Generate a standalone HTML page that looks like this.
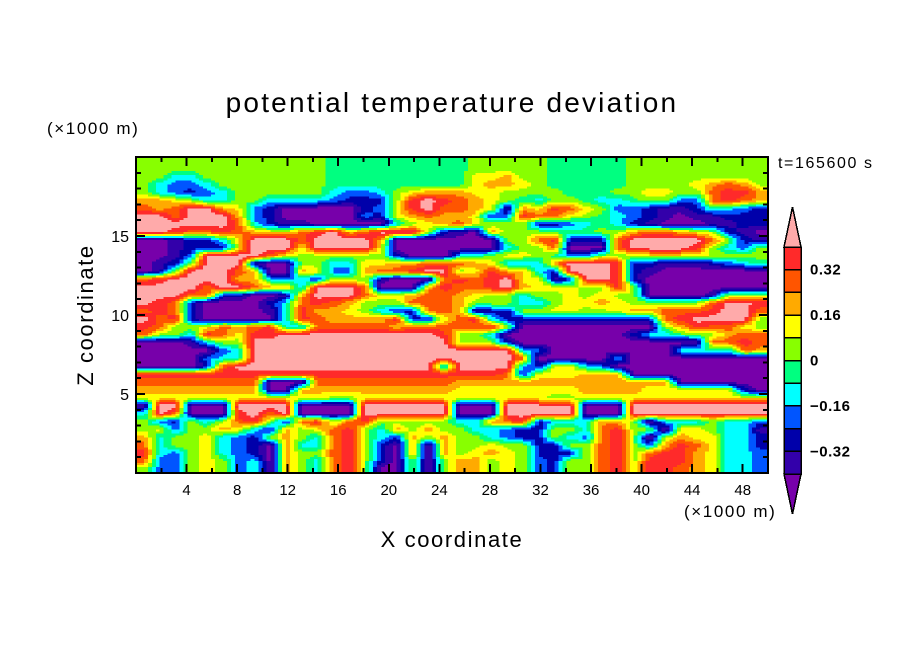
<!DOCTYPE html>
<html><head><meta charset="utf-8">
<style>
html,body{margin:0;padding:0;background:#fff;}
svg{display:block;}
text{font-family:"Liberation Sans",sans-serif;fill:#000;}
</style></head>
<body>
<svg id="chart" width="904" height="654" viewBox="0 0 904 654" xmlns="http://www.w3.org/2000/svg" shape-rendering="crispEdges">
<text x="452" y="112" font-size="28" text-anchor="middle" letter-spacing="2.2">potential temperature deviation</text>
<text x="47" y="134" font-size="17" letter-spacing="1.6">(×1000 m)</text>
<text x="778" y="168" font-size="16" letter-spacing="1.6">t=165600 s</text>
<text x="684" y="517" font-size="17" letter-spacing="1.6">(×1000 m)</text>
<text x="452" y="547" font-size="22" text-anchor="middle" letter-spacing="1.6">X coordinate</text>
<text x="0" y="0" font-size="22" text-anchor="middle" letter-spacing="1.6" transform="translate(93,315) rotate(-90)">Z coordinate</text>
<g id="field"></g>
<g id="axes"></g>
<g id="cbar"></g>
</svg>
<script>
// ---- data ----
const xTicks = [4, 8, 12, 16, 20, 24, 28, 32, 36, 40, 44, 48];
const zTicks = [5, 10, 15];
const cbarLabels = ["0.32", "0.16", "0", "\u22120.16", "\u22120.32"];
const cbarLabelValues = [0.32, 0.16, 0, -0.16, -0.32];
const levelBounds = [-0.40, -0.32, -0.24, -0.16, -0.08, 0, 0.08, 0.16, 0.24, 0.32, 0.40];
const levelColors = ["#7700aa","#3300aa","#0000aa","#0055ff","#00ffff","#00ff80","#88ff00","#ffff00","#ffaa00","#ff5500","#ff2a2a","#ffaaaa"];
// field rows from top (z=20) to bottom (z=0); each char is a contour-band code 0..b
const fieldRows = [
"6666666666665555555556666655555666666666",
"6666666666665555555556666655555666666666",
"6644666666665555555557786655555666666666",
"6433466666665555555557887655555666678986",
"6432346666664334678887766665556677669aa8",
"88764466444432226aba98765466544566339a98",
"989bb873200000237ab9987187a9763321125432",
"bb9bbb832000003278988723a99765432101122",
"bbbbbb942110000046789766622345421000112",
"bba99a98779ab89bbb6210866655566899876210",
"0012247bbb9bbbb80000000669a2229bbbbb9621",
"0012227bbb7bbbb7000000046690009bbbba6436",
"0013bbbb97666666200044677653366677776666",
"0126bbb10066447788999874348bbba221112345",
"016bbb98008733899abb67a8842bbba210000000",
"9abbbb88434276610009a9ab7712bba200000000",
"bbbb9bb9884bbb90008a99ab877766a600000000",
"bbb99220018bbb97789987664667676600001666",
"ba920000249a9866699986664467787666669bba",
"9a92000014a8876422998122667766788999abb9",
"b9a2000004a98888a2279a422222222229abbbb6",
"a9667989a4499999899999a600000000068a9976",
"9664a97aabbbbbbbbbba66400000000244566899",
"0001466bbbbbbbbbbbbb666200000000000099a9",
"0000034bbbbbbbbbbbbbbbbb4300000000454498",
"0000344bbbbbbbbbbbbbbbbb9000004000000000",
"000029bbbbbbbbbbbbb3bbbb3277430000000000",
"aaaaaaaaaaaaaaaaaaaaaaa92777888000000000",
"9999999900099999999988888888888888000000",
"8888888800888888888877777777888877777720",
"7777777777776677777777777766777777777777",
"0bb000bbbb0000bbbbbb000bbbbb000bbbbbbbbb",
"4b9000ab9b0000bbbbbb000bbbbb000bbbbbbbbb",
"6326469a629a69a666664489a244488604446443",
"6736687428679a6486866443226649a660776441",
"8466743268649a6428686643226439a606877442",
"9466743208449a6208086676622669a638a97442",
"a436743208669a6208086787622269a69aa87443",
"9336763408649a6206068867632669a6aaa87443",
"6336763408649a6006068867632669a6aa987443"
];
// ---- scales ----
const X0=136, X1=768, Y0=157, Y1=473, XMAX=50, ZMAX=20;
function xScale(x){ return X0 + x/XMAX*(X1-X0); }
function zScale(z){ return Y1 - z/ZMAX*(Y1-Y0); }
function levelIndex(v){ let i=0; while(i<levelBounds.length && v>=levelBounds[i]-1e-9) i++; return i; }
function levelColor(v){ return levelColors[levelIndex(v)]; }
const NS="http://www.w3.org/2000/svg";
function mk(tag, attrs){ const e=document.createElementNS(NS,tag); for(const k in attrs) e.setAttribute(k,attrs[k]); return e; }
const values = fieldRows.map(r => {
  const s = r.replace(/\s/g,"");
  const out=[]; for(let j=0;j<40;j++){ const c=s[Math.min(j,s.length-1)]; out.push(-0.44+0.08*parseInt(c,12)); } return out;
});
const nRows=values.length, nCols=40;
function sample(cx, rz){
  cx=Math.max(0,Math.min(nCols-1,cx)); rz=Math.max(0,Math.min(nRows-1,rz));
  const j0=Math.floor(cx), i0=Math.floor(rz), j1=Math.min(nCols-1,j0+1), i1=Math.min(nRows-1,i0+1);
  const fx=cx-j0, fz=rz-i0;
  const a=values[i0][j0]*(1-fx)+values[i0][j1]*fx, b=values[i1][j0]*(1-fx)+values[i1][j1]*fx;
  return a*(1-fz)+b*fz;
}
const SUB=4, NX=nCols*SUB, NZ=nRows*SUB;
const fieldG=document.getElementById("field");
for(let i=0;i<NZ;i++){
  const zTop=ZMAX - i*ZMAX/NZ, zBot=ZMAX-(i+1)*ZMAX/NZ;
  const rz=(i+0.5)/SUB-0.5;
  let runStart=0, runLevel=levelIndex(sample(0.5/SUB-0.5, rz));
  for(let j=1;j<=NX;j++){
    const lv = j<NX ? levelIndex(sample((j+0.5)/SUB-0.5, rz)) : -1;
    if(lv!==runLevel){
      const xa=runStart*XMAX/NX, xb=j*XMAX/NX;
      const r=mk("rect",{x:xScale(xa),y:zScale(zTop),width:xScale(xb)-xScale(xa)+0.5,height:zScale(zBot)-zScale(zTop)+0.5,fill:levelColors[runLevel]});
      
      
      fieldG.appendChild(r);
      runStart=j; runLevel=lv;
    }
  }
}
// ---- axes ----
const axesG=document.getElementById("axes");
const frame=mk("rect",{x:X0,y:Y0,width:X1-X0,height:Y1-Y0,fill:"none",stroke:"#000","stroke-width":2});


axesG.appendChild(frame);
for(let x=2;x<XMAX;x+=2){
  const major = xTicks.includes(x), len = major?9:5, px=xScale(x);
  const t1=mk("line",{x1:px,y1:Y1,x2:px,y2:Y1-len,stroke:"#000","stroke-width":2});
  
  
  axesG.appendChild(t1);
  const t2=mk("line",{x1:px,y1:Y0,x2:px,y2:Y0+len,stroke:"#000","stroke-width":2});
  
  
  axesG.appendChild(t2);
}
xTicks.forEach(v=>{
  const t=mk("text",{x:xScale(v),y:495,"font-size":15,"text-anchor":"middle"}); t.textContent=v;
  
  
  axesG.appendChild(t);
});
for(let z=1;z<ZMAX;z++){
  const major = zTicks.includes(z), len = major?9:5, py=zScale(z);
  const t1=mk("line",{x1:X0,y1:py,x2:X0+len,y2:py,stroke:"#000","stroke-width":2});
  
  
  axesG.appendChild(t1);
  const t2=mk("line",{x1:X1,y1:py,x2:X1-len,y2:py,stroke:"#000","stroke-width":2});
  
  
  axesG.appendChild(t2);
}
zTicks.forEach(v=>{
  const t=mk("text",{x:129,y:zScale(v)+6,"font-size":16,"text-anchor":"end"}); t.textContent=v;
  
  
  axesG.appendChild(t);
});
// ---- colorbar ----
const cbarG=document.getElementById("cbar");
const CX0=784, CX1=801, CTOP=247, SEG=22.7, nSeg=10;
function cbY(v){ return CTOP + (0.40 - v)/0.08*SEG; }
for(let k=0;k<nSeg;k++){
  const hi=levelBounds[levelBounds.length-1-k], lo=hi-0.08;
  const r=mk("rect",{x:CX0,y:cbY(hi),width:CX1-CX0,height:cbY(lo)-cbY(hi),fill:levelColor(lo+0.01),stroke:"#000","stroke-width":1.5});
  
  
  cbarG.appendChild(r);
}
const topArrow=mk("polygon",{points:`${CX0},${CTOP} ${CX1},${CTOP} ${(CX0+CX1)/2},${CTOP-40}`,fill:levelColors[11],stroke:"#000","stroke-width":1.5});


cbarG.appendChild(topArrow);
const yb=cbY(-0.40);
const botArrow=mk("polygon",{points:`${CX0},${yb} ${CX1},${yb} ${(CX0+CX1)/2},${yb+40}`,fill:levelColors[0],stroke:"#000","stroke-width":1.5});


cbarG.appendChild(botArrow);
cbarLabels.forEach((s,i)=>{
  const t=mk("text",{x:810,y:cbY(cbarLabelValues[i])+5,"font-size":15,"font-weight":"bold","letter-spacing":0.5}); t.textContent=s;
  
  
  cbarG.appendChild(t);
});
</script>
</body></html>
